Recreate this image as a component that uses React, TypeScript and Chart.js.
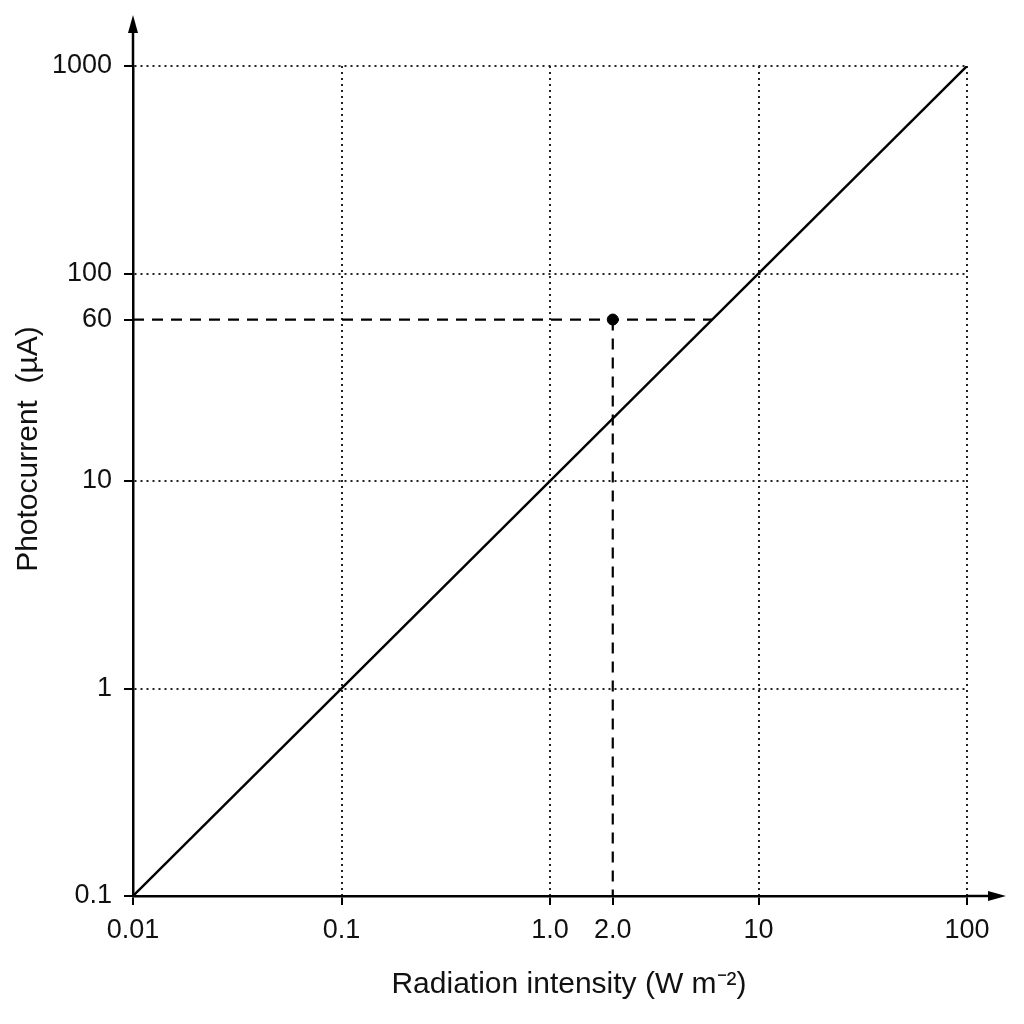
import React, { useEffect, useRef } from 'react';
import { Chart, registerables } from 'chart.js';

Chart.register(...registerables);

// ---- data ----
const xTickValues = [0.01, 0.1, 1, 2, 10, 100];
const xTickLabels = ['0.01', '0.1', '1.0', '2.0', '10', '100'];
const yTickValues = [0.1, 1, 10, 60, 100, 1000];
const yTickLabels = ['0.1', '1', '10', '60', '100', '1000'];
const xGridValues = [0.1, 1, 10, 100];
const yGridValues = [1, 10, 100, 1000];

const lineX = [0.01, 100];
const lineY = [0.1, 1000];
const pointX = [2.0];
const pointY = [60];
const hGuideX = [0.01, 6];
const hGuideY = [60, 60];
const vGuideX = [2, 2];
const vGuideY = [60, 0.1];

const xTitle = 'Radiation intensity (W m\u207B\u00B2)';
const yTitle = 'Photocurrent  (\u00B5A)';

const FONT = "'Liberation Sans', Arial, sans-serif";

const toPts = (xs: number[], ys: number[]) => xs.map((x, i) => ({ x, y: ys[i] }));

const decorPlugin = {
  id: 'axisDecor',
  afterDraw(chart: any) {
    const { ctx, chartArea } = chart;
    const x0 = chartArea.left;
    const y0 = chartArea.bottom;
    ctx.save();
    ctx.strokeStyle = '#000';
    ctx.fillStyle = '#000';
    ctx.lineWidth = 2.5;
    ctx.beginPath();
    ctx.moveTo(x0, chartArea.top);
    ctx.lineTo(x0, 26);
    ctx.stroke();
    ctx.beginPath();
    ctx.moveTo(x0, 15);
    ctx.lineTo(x0 - 5, 33);
    ctx.lineTo(x0 + 5, 33);
    ctx.closePath();
    ctx.fill();
    ctx.beginPath();
    ctx.moveTo(chartArea.right, y0);
    ctx.lineTo(995, y0);
    ctx.stroke();
    ctx.beginPath();
    ctx.moveTo(1006, y0);
    ctx.lineTo(988, y0 - 5);
    ctx.lineTo(988, y0 + 5);
    ctx.closePath();
    ctx.fill();

    // axis titles
    ctx.fillStyle = '#111';
    ctx.font = `30px ${FONT}`;
    ctx.textAlign = 'center';
    ctx.textBaseline = 'middle';
    ctx.fillText(xTitle, (chartArea.left + chartArea.right) / 2 + 19, 985);
    ctx.translate(29, (chartArea.top + chartArea.bottom) / 2 - 32);
    ctx.rotate(-Math.PI / 2);
    ctx.fillText(yTitle, 0, 0);
    ctx.restore();
  },
};

export default function App() {
  const ref = useRef<HTMLCanvasElement | null>(null);
  useEffect(() => {
    if (!ref.current) return;
    const chart = new Chart(ref.current, {
      type: 'scatter',
      data: {
        datasets: [
          {
            data: toPts(lineX, lineY),
            showLine: true,
            borderColor: '#000',
            borderWidth: 2.4,
            pointRadius: 0,
          },
          {
            data: toPts(hGuideX, hGuideY),
            showLine: true,
            borderColor: '#000',
            borderWidth: 2.2,
            borderDash: [11, 8],
            pointRadius: 0,
          },
          {
            data: toPts(vGuideX, vGuideY),
            showLine: true,
            borderColor: '#000',
            borderWidth: 2.2,
            borderDash: [11, 8],
            pointRadius: 0,
          },
          {
            data: toPts(pointX, pointY),
            pointRadius: 5.5,
            pointBackgroundColor: '#000',
            pointBorderColor: '#000',
          },
        ],
      },
      options: {
        responsive: false,
        animation: false,
        devicePixelRatio: 1,
        layout: { padding: { top: 66, right: 57, left: 0, bottom: 0 } },
        plugins: { legend: { display: false }, tooltip: { enabled: false } },
        scales: {
          x: {
            type: 'logarithmic',
            min: 0.01,
            max: 100,
            afterBuildTicks: (s: any) => {
              s.ticks = xTickValues.map((v) => ({ value: v }));
            },
            afterFit: (s: any) => {
              s.height = 128;
            },
            ticks: {
              autoSkip: false,
              maxRotation: 0,
              padding: 9,
              color: '#111',
              font: { family: FONT, size: 27 },
              callback: (v: any) => {
                const i = xTickValues.indexOf(Number(v));
                return i >= 0 ? xTickLabels[i] : '';
              },
            },
            grid: {
              color: (c: any) =>
                c.tick && xGridValues.includes(c.tick.value) ? '#222' : 'rgba(0,0,0,0)',
              lineWidth: 2,
              drawTicks: true,
              tickLength: 9,
              tickColor: '#000',
              tickWidth: 2,
            },
            border: { display: true, color: '#000', width: 2.5, dash: [2, 4] },
            title: { display: false },
          },
          y: {
            type: 'logarithmic',
            min: 0.1,
            max: 1000,
            afterBuildTicks: (s: any) => {
              s.ticks = yTickValues.map((v) => ({ value: v }));
            },
            afterFit: (s: any) => {
              s.width = 133;
            },
            ticks: {
              autoSkip: false,
              padding: 12,
              color: '#111',
              font: { family: FONT, size: 27 },
              callback: (v: any) => {
                const i = yTickValues.indexOf(Number(v));
                return i >= 0 ? yTickLabels[i] : '';
              },
            },
            grid: {
              color: (c: any) =>
                c.tick && yGridValues.includes(c.tick.value) ? '#222' : 'rgba(0,0,0,0)',
              lineWidth: 2,
              drawTicks: true,
              tickLength: 9,
              tickColor: '#000',
              tickWidth: 2,
            },
            border: { display: true, color: '#000', width: 2.5, dash: [2, 4] },
            title: { display: false },
          },
        },
      },
      plugins: [decorPlugin],
    } as any);
    return () => chart.destroy();
  }, []);
  return (
    <div style={{ position: 'absolute', left: 0, top: 0, width: 1024, height: 1024, background: '#fff' }}>
      <canvas ref={ref} width={1024} height={1024} />
    </div>
  );
}
